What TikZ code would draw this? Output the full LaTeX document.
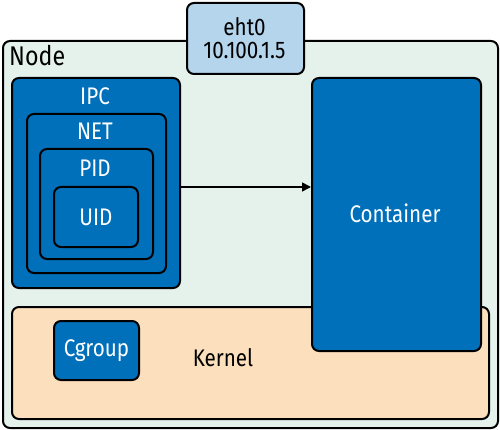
\documentclass[tikz,border=0pt]{standalone}
\usepackage{fontspec}
\setmainfont[FakeStretch=0.86]{Fira Sans}
\usetikzlibrary{arrows.meta}
\definecolor{nodebg}{HTML}{E5F2EB}
\definecolor{ethbg}{HTML}{B4D5EC}
\definecolor{nsblue}{HTML}{0070BB}
\definecolor{kernbg}{HTML}{FCDFBD}
\begin{document}
\begin{tikzpicture}[x=1pt,y=-1pt,
  box/.style={draw=black, line width=2pt, rounded corners=7pt, anchor=north west, inner sep=0pt},
  bluebox/.style={box, fill=nsblue},
  wtxt/.style={text=white, font=\fontsize{24}{24}\selectfont, inner sep=0pt},
  btxt/.style={text=black, font=\fontsize{24}{23}\selectfont, inner sep=0pt}]
\useasboundingbox (0,0) rectangle (500,430);
\node[box, fill=nodebg, minimum width=495pt, minimum height=387pt] (node) at (2,40) {};
\node[btxt, anchor=base west, font=\fontsize{27}{27}\selectfont] (nodel) at (9,66) {Node};
\node[box, fill=ethbg, minimum width=117pt, minimum height=71pt] (eth) at (186,2) {};
\node[btxt, align=center] (ethl) at (244.5,38) {eht0\\10.100.1.5};
\node[box, fill=kernbg, minimum width=477pt, minimum height=112pt] (kern) at (11,306) {};
\node[btxt] (kernl) at (223,358) {Kernel};
\node[bluebox, minimum width=85pt, minimum height=59pt] (cg) at (53,320) {};
\node[wtxt] (cgl) at (cg.center) {Cgroup};
\node[bluebox, minimum width=169pt, minimum height=273pt] (cont) at (311,77) {};
\node[wtxt] (contl) at (395,213) {Container};
\node[bluebox, minimum width=168pt, minimum height=210pt] (ipc) at (11,77) {};
\node[wtxt] (ipcl) at (95,96) {IPC};
\node[bluebox, minimum width=139pt, minimum height=159pt] (net) at (26,113) {};
\node[wtxt] (netl) at (95,131) {NET};
\node[bluebox, minimum width=113pt, minimum height=110pt] (pid) at (39,148) {};
\node[wtxt] (pidl) at (95,168) {PID};
\node[bluebox, minimum width=84pt, minimum height=60pt] (uid) at (53,186) {};
\node[wtxt] (uidl) at (uid.center) {UID};
\draw[line width=1.5pt, -{Triangle[length=9pt,width=9pt]}] ([yshift=-4pt]ipc.east) -- ([yshift=-4pt]ipc.east -| cont.west);
\end{tikzpicture}
\end{document}
